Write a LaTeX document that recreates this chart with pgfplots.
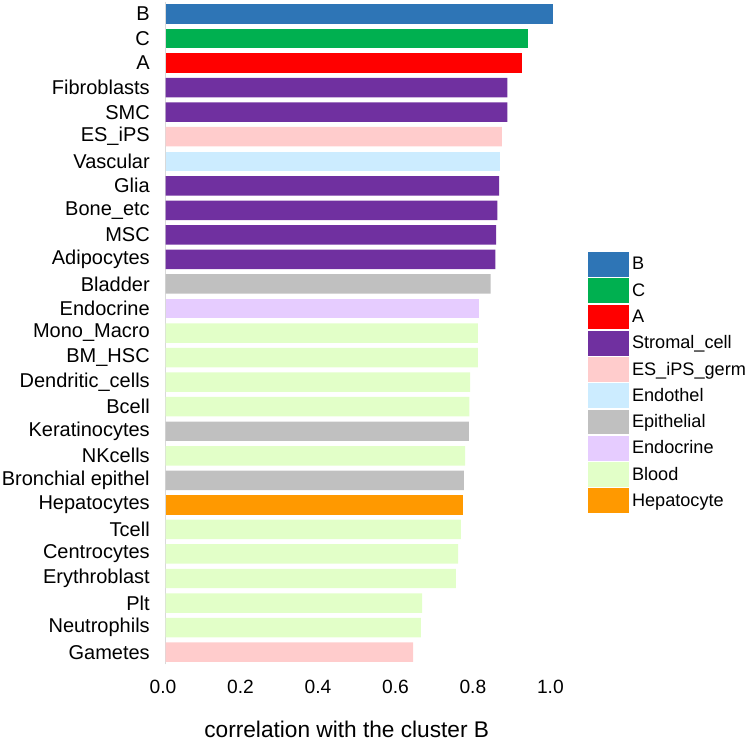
\documentclass[border=0pt]{standalone}
\usepackage{pgfplots}
\pgfplotsset{compat=1.18}
\usepackage{fontspec}
\setmainfont{Liberation Sans}
\usetikzlibrary{calc}
\definecolor{cB}{RGB}{46,117,182}
\definecolor{cC}{RGB}{0,176,80}
\definecolor{cA}{RGB}{255,0,0}
\definecolor{cStromal}{RGB}{112,48,160}
\definecolor{cES}{RGB}{255,204,204}
\definecolor{cEndothel}{RGB}{204,236,255}
\definecolor{cEpi}{RGB}{192,192,192}
\definecolor{cEndo}{RGB}{230,204,255}
\definecolor{cBlood}{RGB}{226,255,200}
\definecolor{cHep}{RGB}{255,153,0}
\begin{document}
\begin{tikzpicture}
\begin{axis}[
  name=ax,
  scale only axis,
  width=305pt, height=497pt,
  xmin=0, xmax=1.05,
  ymin=-0.5, ymax=26.5,
  xbar, bar width=14.6pt, bar shift=0pt,
  axis lines=left,
  axis line style={-},
  x axis line style={draw=none},
  y axis line style={draw=black!15, line width=0.8pt},
  major tick length=0pt,
  xtick={0,0.2,0.4,0.6,0.8,1.0},
  xticklabels={0.0,0.2,0.4,0.6,0.8,1.0},
  xticklabel style={font=\fontsize{14.4pt}{16pt}\selectfont, anchor=center, yshift=-17pt, xshift=-2pt},
  /pgf/number format/assume math mode=true,
  ytick={0,...,26},
  yticklabels={Gametes,Neutrophils,Plt,Erythroblast,Centrocytes,Tcell,Hepatocytes,Bronchial epithel,NKcells,Keratinocytes,Bcell,Dendritic\_cells,BM\_HSC,Mono\_Macro,Endocrine,Bladder,Adipocytes,MSC,Bone\_etc,Glia,Vascular,ES\_iPS,SMC,Fibroblasts,A,C,B},
  yticklabel style={font=\fontsize{15pt}{17pt}\selectfont, anchor=east, inner sep=0pt, xshift=-11.8pt},
  xlabel={correlation with the cluster B},
  xlabel style={font=\fontsize{17pt}{20pt}\selectfont, at={(axis description cs:0.445,0)}, anchor=base, yshift=-54.7pt},
  legend style={at={(axis description cs:1.0384,0.6223)}, anchor=north west, draw=none, inner sep=0pt, outer sep=0pt,
    row sep=1.1pt, column sep=2.25pt, nodes={inner sep=0pt}, font=\fontsize{13.6pt}{15pt}\selectfont},
  legend cell align=left,
  legend image code/.code={\fill[#1] (0pt,-9.3pt) rectangle (30.75pt,9.3pt);},
]
\addplot[fill=cB, draw=none] coordinates {(1.000,26)};
\addlegendentry{B}
\addplot[fill=cC, draw=none] coordinates {(0.935,25)};
\addlegendentry{C}
\addplot[fill=cA, draw=none] coordinates {(0.921,24)};
\addlegendentry{A}
\addplot[fill=cStromal, draw=none] coordinates {(0.882,23) (0.882,22) (0.861,19) (0.856,18) (0.853,17) (0.851,16)};
\addlegendentry{Stromal\_cell}
\addplot[fill=cES, draw=none] coordinates {(0.868,21) (0.639,0)};
\addlegendentry{ES\_iPS\_germ}
\addplot[fill=cEndothel, draw=none] coordinates {(0.863,20)};
\addlegendentry{Endothel}
\addplot[fill=cEpi, draw=none] coordinates {(0.839,15) (0.783,9) (0.770,7)};
\addlegendentry{Epithelial}
\addplot[fill=cEndo, draw=none] coordinates {(0.809,14)};
\addlegendentry{Endocrine}
\addplot[fill=cBlood, draw=none] coordinates {(0.806,13) (0.806,12) (0.786,11) (0.784,10) (0.773,8) (0.762,5) (0.755,4) (0.749,3) (0.662,2) (0.659,1)};
\addlegendentry{Blood}
\addplot[fill=cHep, draw=none] coordinates {(0.768,6)};
\addlegendentry{Hepatocyte}
\end{axis}
\pgfresetboundingbox
\path ($(ax.south west)+(-124.3pt,-58.3pt)$) rectangle ($(ax.north west)+(438.2pt,1.3pt)$);
\end{tikzpicture}
\end{document}
